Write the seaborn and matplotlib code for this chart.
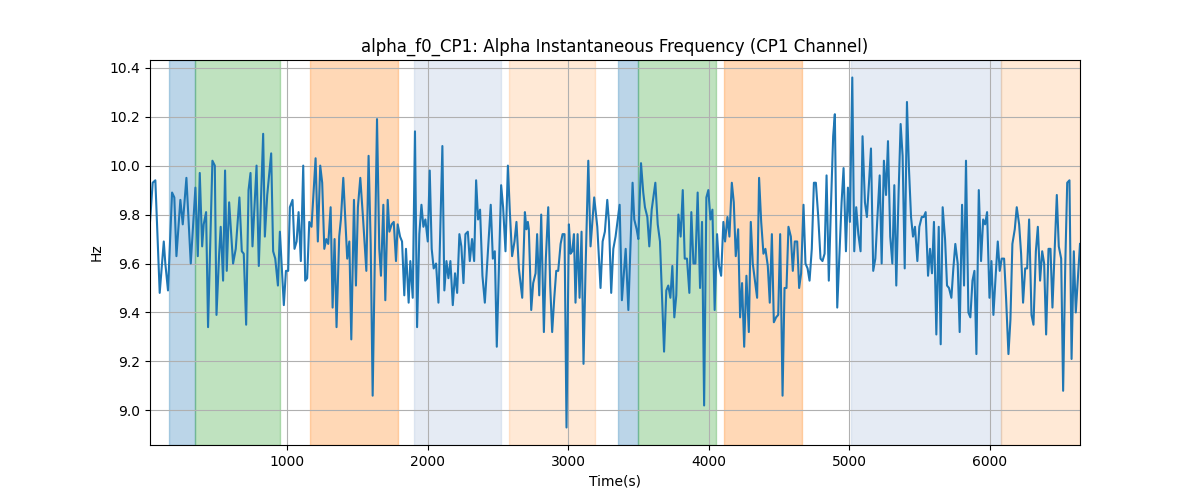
import matplotlib
matplotlib.use("Agg")
import matplotlib.pyplot as plt
import seaborn as sns
import pandas as pd

# alpha instantaneous frequency, CP1 channel
time_s = [24, 43, 62, 93, 122, 133, 152, 181, 197, 212, 240, 257, 283, 314, 347, 364, 378, 395, 406, 423,
          437, 468, 485, 497, 516, 527, 544, 558, 570, 587, 615, 634, 660, 677, 691, 708, 725, 739, 753, 782,
          798, 829, 841,
          858, 886, 900, 915, 934, 948, 976, 991, 1007, 1019, 1038, 1052, 1067, 1081, 1097, 1114, 1128, 1142, 1157, 1173,
          1202, 1218, 1235, 1249, 1264, 1278, 1292, 1309, 1323, 1337, 1351, 1370, 1382, 1399, 1427, 1442, 1456, 1475, 1489, 1503,
          1520, 1539, 1563, 1579, 1594, 1608, 1639, 1655,
          1667, 1684, 1698, 1715, 1727, 1743, 1758, 1774, 1786, 1803, 1817, 1833, 1845, 1864, 1876, 1893, 1909, 1924, 1940, 1955,
          1969, 1983, 2000, 2014, 2028, 2042, 2059, 2076, 2104, 2118, 2133, 2147, 2161, 2178, 2194, 2209, 2225, 2239, 2254, 2268,
          2285, 2299, 2315, 2330, 2344, 2358, 2372, 2389, 2406, 2448, 2463, 2477, 2491,
          2522, 2536, 2553, 2570, 2584, 2600, 2617, 2631, 2648, 2672, 2691, 2702, 2712, 2719, 2736, 2750, 2767, 2778, 2793, 2807,
          2826, 2840, 2857, 2871, 2885, 2900, 2914, 2928, 2945, 2959, 2973, 2987, 3004, 3016, 3028, 3040, 3051, 3066, 3080, 3094,
          3108, 3123, 3142, 3158, 3184, 3206, 3229, 3244, 3260, 3277, 3289, 3305, 3320,
          3336, 3365, 3381, 3408, 3427, 3457, 3469, 3486, 3498, 3517, 3533, 3545, 3562, 3576, 3593, 3619, 3636, 3652, 3681, 3697,
          3711, 3726, 3740, 3754, 3768, 3783, 3799, 3814, 3828, 3844, 3861, 3875, 3890, 3904, 3920, 3937, 3951, 3966, 3982, 3996,
          4011, 4025, 4041, 4058, 4072, 4087, 4103, 4115, 4132,
          4146, 4163, 4177, 4191, 4208, 4222, 4236, 4251, 4267, 4284, 4298, 4312, 4343, 4357, 4372, 4388, 4402, 4419, 4433, 4448,
          4462, 4478, 4493, 4507, 4524, 4538, 4552, 4566, 4583, 4597, 4611, 4628, 4642, 4656, 4673, 4687, 4702, 4716, 4732, 4747,
          4761, 4778, 4794, 4808, 4823, 4837, 4853, 4868, 4884, 4896, 4913, 4927, 4944, 4958,
          4975, 4989, 5003, 5020, 5034, 5048, 5063, 5079, 5093, 5110, 5124, 5139, 5153, 5169, 5184, 5198, 5215, 5229, 5245, 5260,
          5274, 5290, 5305, 5319, 5333, 5350, 5364, 5378, 5393, 5409, 5423, 5438, 5452, 5466, 5483, 5497, 5514, 5528, 5542, 5559,
          5573, 5587, 5601, 5618, 5635, 5649, 5663, 5680, 5694, 5708, 5725, 5739, 5753, 5770, 5784,
          5801, 5815, 5829, 5846, 5860, 5875, 5889, 5903, 5920, 5936, 5951, 5965, 5979, 5996, 6010, 6024, 6041, 6055, 6069, 6083,
          6100, 6114, 6131, 6145, 6159, 6176, 6190, 6207, 6221, 6235, 6250, 6264, 6278, 6295, 6309, 6326, 6340, 6356, 6371, 6385,
          6399, 6416, 6430, 6444, 6475, 6489, 6506, 6520, 6535, 6549, 6565, 6580, 6596, 6610, 6640]

hz = [9.77, 9.93, 9.94, 9.48, 9.69, 9.60, 9.49, 9.89, 9.87, 9.63, 9.86, 9.76, 9.95, 9.60, 9.91, 9.63, 9.97, 9.67, 9.76, 9.81,
      9.34, 10.02, 10.00, 9.39, 9.64, 9.75, 9.53, 9.98, 9.57, 9.85, 9.60, 9.66, 9.87, 9.65, 9.64, 9.35, 9.90, 9.97, 9.67, 10.00,
      9.59, 10.13, 9.71,
      9.88, 10.05, 9.65, 9.62, 9.51, 9.73, 9.43, 9.57, 9.57, 9.83, 9.86, 9.66, 9.69, 9.81, 9.61, 10.00, 9.53, 9.54, 9.77, 9.75,
      10.03, 9.69, 10.00, 9.93, 9.66, 9.70, 9.68, 9.83, 9.42, 9.70, 9.34, 9.71, 9.78, 9.95, 9.62, 9.69, 9.29, 9.86, 9.51, 9.83,
      9.95, 9.79, 9.57, 10.04, 9.68, 9.06, 10.19, 9.66,
      9.55, 9.84, 9.45, 9.86, 9.73, 9.76, 9.77, 9.61, 9.76, 9.71, 9.69, 9.47, 9.66, 9.44, 9.61, 9.46, 10.14, 9.34, 9.72, 9.84,
      9.75, 9.78, 9.69, 9.98, 9.66, 9.58, 9.60, 9.44, 10.08, 9.49, 9.61, 9.54, 9.61, 9.43, 9.56, 9.48, 9.72, 9.67, 9.52, 9.72,
      9.73, 9.61, 9.70, 9.61, 9.94, 9.78, 9.82, 9.55, 9.44, 9.84, 9.62, 9.65, 9.26,
      9.92, 9.83, 9.65, 10.00, 9.81, 9.63, 9.69, 9.77, 9.58, 9.46, 9.81, 9.74, 9.77, 9.74, 9.41, 9.52, 9.56, 9.72, 9.47, 9.80,
      9.32, 9.62, 9.83, 9.51, 9.32, 9.46, 9.57, 9.57, 9.68, 9.72, 9.72, 8.93, 9.76, 9.64, 9.65, 9.72, 9.44, 9.72, 9.46, 9.73,
      9.19, 9.59, 10.02, 9.67, 9.87, 9.75, 9.50, 9.69, 9.73, 9.86, 9.77, 9.48, 9.66,
      9.71, 9.84, 9.45, 9.66, 9.41, 9.93, 9.78, 9.74, 9.70, 10.01, 9.89, 9.83, 9.79, 9.67, 9.82, 9.93, 9.76, 9.69, 9.24, 9.49,
      9.51, 9.46, 9.59, 9.38, 9.47, 9.80, 9.71, 9.90, 9.62, 9.62, 9.48, 9.81, 9.60, 9.60, 9.89, 9.50, 9.77, 9.02, 9.87, 9.90,
      9.78, 9.82, 9.41, 9.72, 9.59, 9.55, 9.77, 9.69, 9.79,
      9.71, 9.93, 9.85, 9.63, 9.74, 9.38, 9.52, 9.26, 9.55, 9.32, 9.77, 9.60, 9.46, 9.95, 9.77, 9.64, 9.66, 9.59, 9.44, 9.72,
      9.36, 9.38, 9.39, 9.72, 9.06, 9.50, 9.50, 9.75, 9.71, 9.57, 9.69, 9.69, 9.50, 9.56, 9.84, 9.60, 9.58, 9.53, 9.66, 9.93,
      9.93, 9.79, 9.62, 9.61, 9.64, 9.96, 9.53, 9.83, 10.12, 10.21, 9.42, 9.61, 9.85, 9.99,
      9.65, 9.91, 9.77, 10.36, 9.65, 9.83, 9.72, 9.65, 10.12, 9.85, 9.79, 9.93, 10.07, 9.57, 9.62, 9.78, 9.96, 9.60, 10.02, 9.88,
      10.10, 9.71, 9.60, 9.92, 9.51, 9.90, 10.17, 10.04, 9.58, 10.26, 9.99, 9.79, 9.71, 9.75, 9.61, 9.75, 9.79, 9.79, 9.81, 9.55,
      9.66, 9.56, 9.77, 9.31, 9.75, 9.27, 9.83, 9.70, 9.51, 9.50, 9.46, 9.58, 9.68, 9.60, 9.32,
      9.84, 9.51, 10.02, 9.40, 9.38, 9.53, 9.57, 9.23, 9.90, 9.61, 9.78, 9.76, 9.81, 9.46, 9.61, 9.39, 9.56, 9.69, 9.57, 9.62,
      9.62, 9.46, 9.23, 9.37, 9.68, 9.74, 9.83, 9.76, 9.64, 9.44, 9.58, 9.58, 9.78, 9.39, 9.35, 9.65, 9.75, 9.53, 9.65, 9.60,
      9.31, 9.66, 9.66, 9.42, 9.88, 9.67, 9.62, 9.08, 9.59, 9.93, 9.94, 9.21, 9.65, 9.40, 9.68]

# shaded segments
span_start = [160, 342, 1164, 1905, 2581, 3350, 3495, 4105, 5012, 6078]
span_end = [342, 948, 1788, 2522, 3191, 3495, 4053, 4659, 6078, 6640]
span_color = ['tab:blue', 'tab:green', 'tab:orange', 'lightsteelblue', 'tab:orange',
              'tab:blue', 'tab:green', 'tab:orange', 'lightsteelblue', 'tab:orange']
span_alpha = [0.3, 0.3, 0.3, 0.33, 0.17, 0.3, 0.3, 0.3, 0.33, 0.17]

df = pd.DataFrame({'time': time_s, 'hz': hz})

fig, ax = plt.subplots(figsize=(12, 5), dpi=100)

for s, e, c, a in zip(span_start, span_end, span_color, span_alpha):
    ax.axvspan(s, e, color=c, alpha=a)

sns.lineplot(data=df, x='time', y='hz', ax=ax, color='tab:blue', linewidth=1.5)

ax.set_xlim(df['time'].min(), df['time'].max())
ax.grid(True)
ax.set_title('alpha_f0_CP1: Alpha Instantaneous Frequency (CP1 Channel)')
ax.set_xlabel('Time(s)')
ax.set_ylabel('Hz')

plt.savefig('out.png')
